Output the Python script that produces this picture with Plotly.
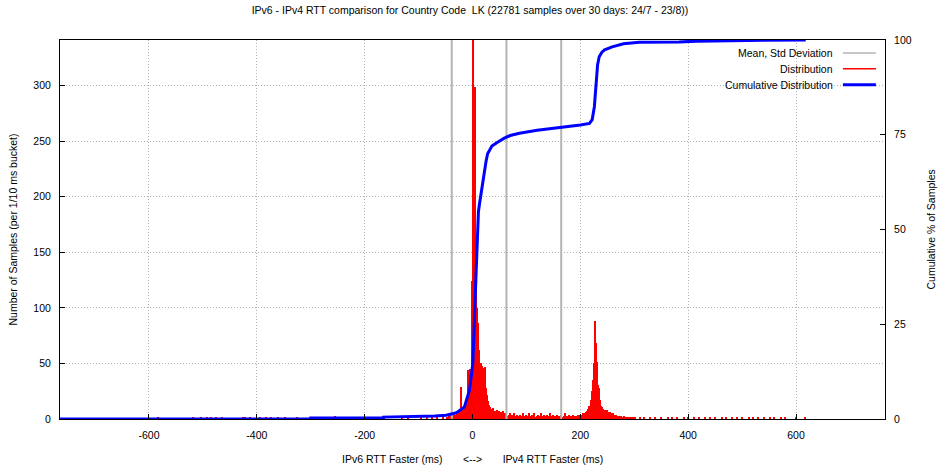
import plotly.graph_objects as go

# --- data ---
title = "IPv6 - IPv4 RTT comparison for Country Code  LK (22781 samples over 30 days: 24/7 - 23/8))"

bin_ms = 2
core_start_ms = -40
# counts per bucket from -40 ms to 300 ms (2 ms buckets)
core_counts = [
    3, 2, 4, 3, 4, 5, 4, 6, 7, 29,
    8, 10, 12, 14, 18, 44, 22, 45, 35, 124,
    360, 160, 299, 120, 100, 86, 62, 50, 48, 46,
    35, 47, 28, 22, 16, 13, 11, 9, 8, 10,
    7, 6, 8, 6, 7, 5, 6, 5, 7, 5,
    4, 5, 3, 4, 5, 3, 4, 3, 5, 3,
    2, 4, 3, 2, 4, 3, 5, 2, 3, 4,
    2, 3, 5, 3, 2, 4, 3, 5, 2, 3,
    4, 2, 3, 5, 3, 2, 4, 3, 2, 4,
    3, 5, 2, 3, 4, 2, 3, 2, 4, 3,
    2, 3, 4, 2, 3, 5, 2, 3, 2, 4,
    3, 2, 3, 4, 2, 3, 3, 4, 3, 4,
    3, 4, 5, 4, 5, 6, 7, 9, 12, 17,
    25, 35, 50, 88, 68, 51, 31, 28, 17, 12,
    11, 9, 8, 7, 8, 6, 5, 6, 5, 4,
    5, 4, 3, 4, 3, 3, 2, 3, 2, 2,
    3, 2, 2, 1, 2, 2, 1, 2, 1, 1,
]

# isolated buckets outside the core range
sparse_ms = [-583, -518, -503, -492, -484, -475, -465, -426, -422, -413,
             -394, -382, -373, -361, -348, -326, -255, -131, -119, -95,
             -85, -75, -65, -55, -48, -44,
             302, 310, 318, 330, 338, 350, 362, 370, 380, 392,
             400, 410, 420, 432, 440, 450, 462, 470, 482, 490,
             500, 512, 520, 530, 540, 552, 560, 572, 580, 600, 617]
sparse_counts = [1, 1, 1, 1, 1, 1, 1, 1, 1, 1,
                 1, 1, 1, 1, 1, 1, 3, 2, 2, 1,
                 1, 2, 1, 2, 2, 3,
                 1, 1, 1, 1, 1, 1, 1, 2, 1, 1,
                 1, 1, 1, 1, 1, 1, 1, 1, 1, 1,
                 1, 1, 1, 1, 1, 1, 1, 1, 1, 2, 1]

cdf_ms = [-765, -300, -300, -165, -165, -100, -70, -49, -33, -27,
          -15, -5.5, 0.6, 5, 8.6, 11, 13, 16, 19, 22,
          25, 28, 32, 36, 45, 52, 59, 70, 87, 120,
          164, 200, 217, 222, 226, 229, 232, 235, 240, 245,
          259, 280, 309, 383, 416, 509, 618]
cdf_pct = [0, 0, 0.25, 0.25, 0.5, 0.6, 0.8, 1.0, 1.5, 1.9,
           3.2, 7.7, 14.7, 32.3, 49, 54.7, 56.8, 59.5, 63.0, 66.0,
           67.9, 70.0, 71.2, 72.0, 72.9, 73.6, 74.1, 74.8, 75.4, 76.2,
           76.9, 77.6, 78, 79, 82.4, 89.4, 93.5, 95.6, 96.8, 97.4,
           98.2, 99, 99.4, 99.5, 99.7, 99.9, 100]

mean_ms = 63
std_ms = 101.5

x_ticks = [-600, -400, -200, 0, 200, 400, 600]
x_labels = ["-600", "-400", "-200", "0", "200", "400", "600"]
y_ticks = [0, 50, 100, 150, 200, 250, 300]
y2_ticks = [0, 25, 50, 75, 100]

x_title = "IPv6 RTT Faster (ms)       <-->       IPv4 RTT Faster (ms)"
y_title = "Number of Samples (per 1/10 ms bucket)"
y2_title = "Cumulative % of Samples"

legend_names = ["Mean, Std Deviation", "Distribution", "Cumulative Distribution"]
legend_colors = ["#b4b4b4", "#ff0000", "#0000ff"]
legend_widths = [1.5, 1.5, 3]

# --- build figure ---
core_x = [core_start_ms + bin_ms * (i + 0.5) for i in range(len(core_counts))]
hist_x = core_x + sparse_ms
hist_y = core_counts + sparse_counts

font = "Liberation Sans, Arial, sans-serif"
fsize = 10.5
txt = dict(family=font, size=fsize, color="#000000")
fig = go.Figure()

for v in [mean_ms - std_ms, mean_ms, mean_ms + std_ms]:
    fig.add_trace(go.Scatter(x=[v, v], y=[0, 341], mode="lines",
                             line=dict(color="#b4b4b4", width=2),
                             showlegend=False, hoverinfo="skip"))

fig.add_trace(go.Bar(x=hist_x, y=hist_y, width=bin_ms,
                     marker=dict(color="#ff0000", line=dict(width=0)),
                     showlegend=False))

fig.add_trace(go.Scatter(x=cdf_ms, y=cdf_pct, yaxis="y2", mode="lines",
                         line=dict(color="#0000ff", width=3),
                         showlegend=False))

# hand-made legend: text right-aligned, sample line on the right
for i, name in enumerate(legend_names):
    yp = 0.966 - i * 0.042
    fig.add_annotation(x=0.939, y=yp, xref="paper", yref="paper",
                       text=name, showarrow=False, xanchor="right",
                       yanchor="middle", font=txt)
    fig.add_shape(type="line", xref="paper", yref="paper",
                  x0=0.949, x1=0.989, y0=yp, y1=yp,
                  line=dict(color=legend_colors[i], width=legend_widths[i]))

# axis titles placed by hand (pixels relative to the plot area)
fig.add_annotation(x=0.5, y=0, xref="paper", yref="paper", yshift=-40,
                   text=x_title, showarrow=False, yanchor="middle", font=txt)
fig.add_annotation(x=0, y=0.5, xref="paper", yref="paper", xshift=-48,
                   text=y_title, showarrow=False, textangle=-90,
                   xanchor="center", yanchor="middle", font=txt)
fig.add_annotation(x=1, y=0.5, xref="paper", yref="paper", xshift=45,
                   text=y2_title, showarrow=False, textangle=-90,
                   xanchor="center", yanchor="middle", font=txt)

axis_common = dict(showline=True, linecolor="#000000", linewidth=1,
                   ticks="inside", ticklen=5, tickcolor="#000000",
                   tickfont=txt, zeroline=False, automargin=False)
grid = dict(showgrid=True, gridcolor="#b0b0b0", griddash="1px,2px", gridwidth=1)

fig.update_layout(
    width=940, height=466,
    margin=dict(l=60, r=55, t=40, b=47, autoexpand=False),
    paper_bgcolor="#ffffff", plot_bgcolor="#ffffff",
    bargap=0,
    title=dict(text=title, x=0.5, xanchor="center", y=0.985, yanchor="top",
               font=txt),
    xaxis=dict(range=[-765, 765], tickvals=x_ticks, ticktext=x_labels,
               mirror=True, ticklabelstandoff=6, **grid, **axis_common),
    yaxis=dict(range=[0, 341], tickvals=y_ticks, mirror=True,
               ticklabelstandoff=6, **grid, **axis_common),
    yaxis2=dict(range=[0, 100], tickvals=y2_ticks, overlaying="y", side="right",
                showgrid=False, ticklabelstandoff=6, **axis_common),
)

fig.write_html("out.html", config={"displayModeBar": False},
               post_script="document.body.style.margin='0px';")
